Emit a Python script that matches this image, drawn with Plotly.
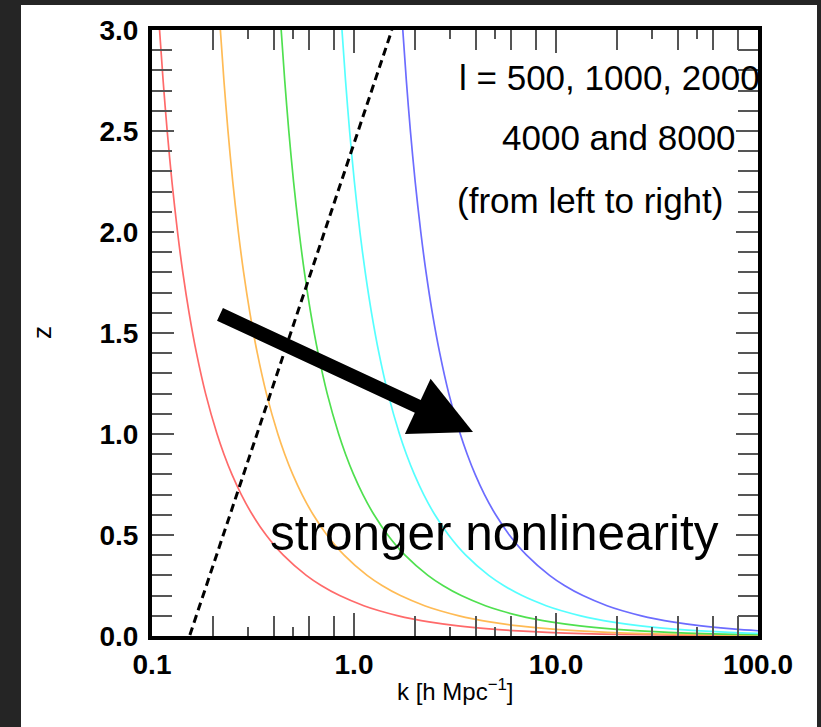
import plotly.graph_objects as go

# ---- data ----
z_vals = [3.0, 2.75, 2.5, 2.25, 2.0, 1.8, 1.6, 1.4, 1.2, 1.0, 0.9, 0.8, 0.7, 0.6, 0.5,
          0.4, 0.3, 0.25, 0.2, 0.15, 0.125, 0.1, 0.085, 0.07, 0.05, 0.035, 0.025,
          0.018, 0.012, 0.008, 0.005, 0.003, 0.0015]
k_l500 = [0.1090, 0.1135, 0.1189, 0.1255, 0.1338, 0.1421, 0.1526, 0.1661, 0.1842, 0.2099,
          0.2271, 0.2487, 0.2767, 0.3143, 0.3672, 0.4469, 0.5806, 0.6884, 0.8491, 1.118,
          1.334, 1.657, 1.944, 2.350, 3.278, 4.661, 6.513, 9.036, 13.54, 20.29, 32.45,
          53.97, 107.9]
k_l1000 = [0.2180, 0.2270, 0.2378, 0.2510, 0.2676, 0.2842, 0.3052, 0.3322, 0.3684, 0.4198,
           0.4542, 0.4974, 0.5534, 0.6286, 0.7344, 0.8938, 1.161, 1.377, 1.698, 2.236,
           2.668, 3.314, 3.888, 4.700, 6.556, 9.322, 13.03, 18.07, 27.08, 40.58, 64.90,
           107.9, 215.8]
k_l2000 = [0.4360, 0.4540, 0.4756, 0.5020, 0.5352, 0.5684, 0.6104, 0.6644, 0.7368, 0.8396,
           0.9084, 0.9948, 1.107, 1.257, 1.469, 1.788, 2.322, 2.754, 3.396, 4.472,
           5.336, 6.628, 7.776, 9.400, 13.11, 18.64, 26.05, 36.14, 54.16, 81.16, 129.8,
           215.9, 431.6]
k_l4000 = [0.872, 0.908, 0.951, 1.004, 1.070, 1.137, 1.221, 1.329, 1.474, 1.679,
           1.817, 1.990, 2.214, 2.514, 2.938, 3.575, 4.645, 5.507, 6.793, 8.944,
           10.67, 13.26, 15.55, 18.80, 26.22, 37.29, 52.10, 72.29, 108.3, 162.3, 259.6,
           431.8, 863.2]
k_l8000 = [1.744, 1.816, 1.902, 2.008, 2.141, 2.274, 2.442, 2.658, 2.947, 3.358,
           3.634, 3.979, 4.427, 5.029, 5.875, 7.150, 9.290, 11.01, 13.59, 17.89,
           21.34, 26.51, 31.10, 37.60, 52.45, 74.58, 104.2, 144.6, 216.6, 324.6, 519.2,
           863.5, 1726.0]
curve_colors = ["#ff6a6a", "#ffbb55", "#4fe04f", "#55ffff", "#6c6cff"]

nl_k = [0.154, 1.54]      # dashed nonlinear-scale line
nl_z = [0.005, 3.0]

x_tickvals = [0.1, 1, 10, 100]
x_ticktext = ["0.1", "1.0", "10.0", "100.0"]
x_minor_long = [0.2, 0.4, 0.6, 0.8, 2, 4, 6, 8, 20, 40, 60, 80]
x_minor_short = [0.3, 0.5, 3, 5, 30, 50]
y_tickvals = [0.0, 0.5, 1.0, 1.5, 2.0, 2.5, 3.0]

W, H = 821, 727
L, R, T, B = 152, 63, 30, 91
pw, ph = W - L - R, H - T - B


def px_x(p):
    return (p - L) / pw


def px_y(p):
    return (H - B - p) / ph


fig = go.Figure()
for kk, col in zip([k_l500, k_l1000, k_l2000, k_l4000, k_l8000], curve_colors):
    fig.add_trace(go.Scatter(x=kk, y=z_vals, mode="lines",
                             line=dict(color=col, width=1.7, shape="spline", smoothing=0.8),
                             showlegend=False, hoverinfo="skip"))
fig.add_trace(go.Scatter(x=nl_k, y=nl_z, mode="lines",
                         line=dict(color="black", width=3, dash="8px,5px"),
                         showlegend=False, hoverinfo="skip"))
fig.add_trace(go.Scatter(x=[None], y=[None], xaxis="x2", showlegend=False, hoverinfo="skip"))

tick_font = dict(family="Liberation Sans", size=28, color="black", weight="bold")

fig.update_layout(
    width=W, height=H,
    margin=dict(l=L, r=R, t=T, b=B),
    paper_bgcolor="#252525",
    plot_bgcolor="white",
    showlegend=False,
    xaxis=dict(type="log", range=[-1, 2], tickmode="array", tickvals=x_tickvals,
               ticktext=x_ticktext, ticks="inside", ticklen=23, tickwidth=2,
               tickcolor="#555", showline=True, linewidth=4, linecolor="black",
               mirror="ticks", showgrid=False, zeroline=False, tickfont=tick_font,
               minor=dict(tickmode="array", tickvals=x_minor_long, ticks="inside",
                          ticklen=20, tickwidth=2, tickcolor="#555", showgrid=False)),
    xaxis2=dict(type="log", range=[-1, 2], overlaying="x", anchor="y", side="bottom",
                tickmode="array", tickvals=x_minor_short, ticks="inside", ticklen=9,
                tickwidth=2, tickcolor="#555", showticklabels=False, showline=False,
                mirror="ticks", showgrid=False, zeroline=False),
    yaxis=dict(range=[0, 3], tickmode="array", tickvals=y_tickvals, tickformat=".1f",
               ticks="inside", ticklen=22, tickwidth=2, tickcolor="#555",
               showline=True, linewidth=4, linecolor="black", mirror="ticks",
               showgrid=False, zeroline=False, tickfont=tick_font, ticklabelstandoff=4,
               minor=dict(dtick=0.1, ticks="inside", ticklen=20, tickwidth=2,
                          tickcolor="#555", showgrid=False)),
)

# white panel behind the chart
fig.add_shape(type="rect", xref="paper", yref="paper", layer="below",
              x0=px_x(21), x1=px_x(817), y0=px_y(727), y1=px_y(5),
              fillcolor="white", line=dict(width=0))

txt_font = dict(family="Liberation Sans", size=35, color="black")
fig.add_annotation(xref="paper", yref="y", x=px_x(762), y=2.767, xanchor="right",
                   yanchor="middle", text="l = 500, 1000, 2000", showarrow=False, font=txt_font)
fig.add_annotation(xref="paper", yref="y", x=px_x(738), y=2.47, xanchor="right",
                   yanchor="middle", text="4000 and 8000", showarrow=False, font=txt_font)
fig.add_annotation(xref="paper", yref="y", x=px_x(725), y=2.158, xanchor="right",
                   yanchor="middle", text="(from left to right)", showarrow=False, font=txt_font)
fig.add_annotation(xref="paper", yref="y", x=px_x(268), y=0.51, xanchor="left",
                   yanchor="middle", text="stronger nonlinearity", showarrow=False,
                   font=dict(family="Liberation Sans", size=49.5, color="black"))

# big arrow
fig.add_annotation(xref="x", yref="y", x=0.589, y=1.01, ax=-256, ay=-119,
                   text=" ", showarrow=True, arrowhead=2, arrowwidth=14, arrowsize=0.87,
                   arrowcolor="black", standoff=0)

# axis titles
fig.add_annotation(xref="paper", yref="paper", x=px_x(42), y=0.5, text="z",
                   textangle=-90, showarrow=False, xanchor="center", yanchor="middle",
                   font=dict(family="Liberation Sans", size=26, color="black"))
fig.add_annotation(xref="paper", yref="paper", x=0.5, y=px_y(690),
                   text="k [h Mpc<sup>−1</sup>]", showarrow=False,
                   xanchor="center", yanchor="middle",
                   font=dict(family="Liberation Sans", size=24, color="black"))

fig.write_html("out.html")
